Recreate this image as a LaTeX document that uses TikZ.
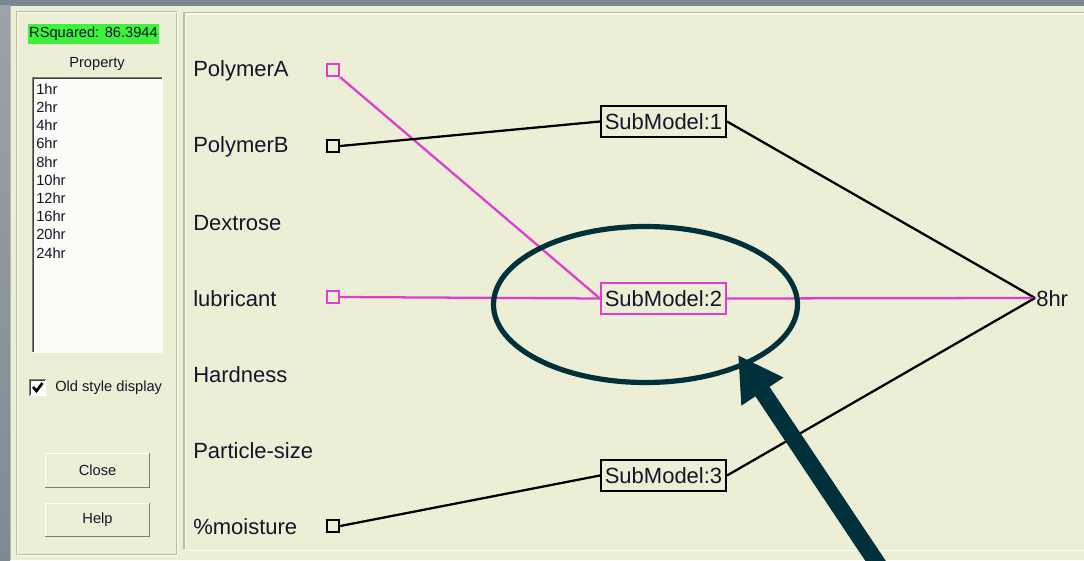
\documentclass[tikz,border=0pt]{standalone}
\usepackage{fontspec}
\setmainfont{Liberation Sans}
\usetikzlibrary{arrows.meta,shapes.geometric}
\definecolor{beige}{HTML}{ECEFD6}
\definecolor{topgray}{HTML}{7B8690}
\definecolor{photoA}{HTML}{9AA3A8}
\definecolor{photoB}{HTML}{7E8A92}
\definecolor{etchdark}{HTML}{B9BBA7}
\definecolor{etchlight}{HTML}{FBFCF2}
\definecolor{rgreen}{HTML}{3DF23A}
\definecolor{listwhite}{HTML}{FBFBF7}
\definecolor{txt}{HTML}{15152A}
\definecolor{mag}{HTML}{E03CCF}
\definecolor{teal}{HTML}{00313A}
\definecolor{btnshadow}{HTML}{7D7E74}
\begin{document}
\begin{tikzpicture}[x=0.75pt,y=-0.75pt,
  small/.style={font=\fontsize{11}{12}\selectfont, text=txt, inner sep=0pt},
  big/.style={font=\fontsize{16.5}{19}\selectfont, text=txt, inner sep=0pt},
  port/.style={draw=#1, line width=1.8pt, fill=beige, minimum size=9pt, inner sep=0pt},
  submodel/.style={draw=#1, line width=1.8pt, fill=beige, minimum width=93.5pt, minimum height=23.2pt, inner sep=0pt, font=\fontsize{16.5}{19}\selectfont, text=txt},
  blk/.style={draw=black, line width=1.7pt},
  mg/.style={draw=mag, line width=1.7pt},
  ring/.style={draw=teal, line width=3.9pt, ellipse, inner sep=0pt},
  pointer/.style={draw=teal, line width=12.75pt, -{Triangle[length=33pt,width=35.5pt]}},
  btn/.style={fill=beige, inner sep=0pt, minimum width=78.75pt, minimum height=26pt, font=\fontsize{11}{12}\selectfont, text=txt}
]
\useasboundingbox (0,0) rectangle (1084,560);
% backdrop
\fill[topgray] (0,0) rectangle (1084,6);
\shade[top color=photoA, bottom color=photoB] (0,6) rectangle (10,560);
\fill[beige] (10,6) rectangle (1084,560);
\draw[etchdark, line width=0.75pt] (10.5,6) -- (10.5,560);
% left panel etched frame
\draw[etchdark, line width=0.75pt] (16,12) rectangle (176,554);
\draw[etchlight, line width=0.75pt] (17,13) rectangle (177,555);
% right panel etched frame
\draw[etchdark, line width=1.2pt] (184,12.5) -- (1090,12.5);
\draw[etchdark, line width=1.2pt] (184,12.5) -- (184,549);
\draw[etchlight, line width=1.2pt] (185.5,14) -- (1090,14);
\draw[etchlight, line width=1.2pt] (185.5,14) -- (185.5,550.5);
\draw[etchlight, line width=1.2pt] (184,550.5) -- (1090,550.5);

% left controls
\node[small, fill=rgreen, minimum width=98.25pt, minimum height=15pt] (rsq) at (93.5,34) {RSquared: 86.3944};
\node[small] (prop) at (97,64) {Property};
\fill[listwhite] (32,77) rectangle (163,353);
\draw[btnshadow, line width=0.75pt] (32.5,353) -- (32.5,77.5) -- (163,77.5);
\draw[black!75, line width=0.75pt] (33.5,352) -- (33.5,78.5) -- (162,78.5);
\draw[etchlight, line width=0.75pt] (32,352.5) -- (162.5,352.5) -- (162.5,77);
\foreach \t [count=\i from 0] in {1hr,2hr,4hr,6hr,8hr,10hr,12hr,16hr,20hr,24hr}
  \node[small, anchor=west] (item\i) at (36,{89+18.2*\i}) {\t};
% checkbox
\fill[white] (29,379) rectangle (46,396);
\draw[btnshadow, line width=0.75pt] (29.5,396) -- (29.5,379.5) -- (46,379.5);
\draw[black!75, line width=0.75pt] (30.5,395) -- (30.5,380.5) -- (45,380.5);
\draw[line width=2pt, black] (33,387) -- (36.5,391) -- (42.5,383);
\node[small, anchor=west] (olds) at (55,387.5) {Old style display};
% buttons
\node[btn] (close) at (97.5,470.5) {Close};
\draw[white, line width=0.75pt] (45.5,487) -- (45.5,453.5) -- (149,453.5);
\draw[btnshadow, line width=1.2pt] (45,487.5) -- (149.5,487.5) -- (149.5,453);
\node[btn] (help) at (97.5,520) {Help};
\draw[white, line width=0.75pt] (45.5,536) -- (45.5,503.5) -- (149,503.5);
\draw[btnshadow, line width=1.2pt] (45,536.5) -- (149.5,536.5) -- (149.5,503);

% variable labels
\node[big, anchor=west] (lA) at (193,71) {PolymerA};
\node[big, anchor=west] (lB) at (193,147) {PolymerB};
\node[big, anchor=west] (lD) at (193,223) {Dextrose};
\node[big, anchor=west] (lL) at (193,299) {lubricant};
\node[big, anchor=west] (lH) at (193,375) {Hardness};
\node[big, anchor=west] (lP) at (193,451) {Particle-size};
\node[big, anchor=west] (lM) at (193,527) {\%moisture};

% ports
\node[port=mag] (pA) at (333,70) {};
\node[port=black] (pB) at (333,146) {};
\node[port=mag] (pL) at (333,297) {};
\node[port=black] (pM) at (333,526) {};

% submodels
\coordinate (out) at (1035,298);
\node[submodel=black] (s1) at (663.5,121.5) {SubModel:1};
\node[submodel=mag] (s2) at (663.5,298.5) {SubModel:2};
\node[submodel=black] (s3) at (663.5,475.5) {SubModel:3};
\node[big, anchor=west] (o8) at (1036,298.5) {8hr};

% connectors
\draw[mg] (pA.south east) -- (s2.west);
\draw[blk] (pB.east) -- (s1.west);
\draw[mg] (pL.east) -- (s2.west);
\draw[blk] (pM.east) -- (s3.west);
\draw[blk] (s1.east) -- (out);
\draw[mg] (s2.east) -- (out);
\draw[blk] (s3.east) -- (out);
% redraw submodel boxes on top
\node[submodel=black] at (s1) {SubModel:1};
\node[submodel=mag] at (s2) {SubModel:2};
\node[submodel=black] at (s3) {SubModel:3};

% annotation
\node[ring, minimum width=228pt, minimum height=117pt] (hl) at (645.5,304.5) {};
\coordinate (atail) at (887,578);
\coordinate (atip) at (738,355);
\draw[pointer] (atail) -- (atip);
\end{tikzpicture}
\end{document}
